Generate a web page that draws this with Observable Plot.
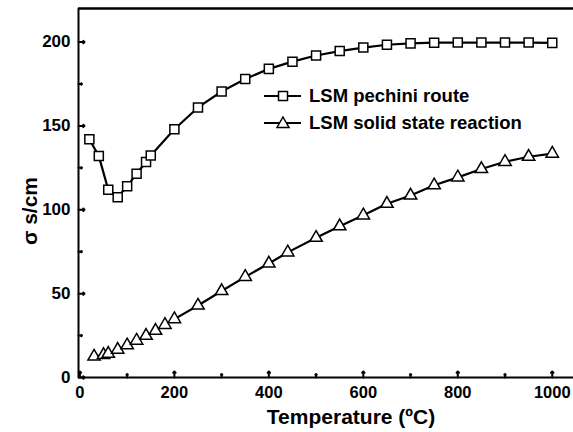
<!DOCTYPE html>
<html>
<head>
<meta charset="utf-8">
<script src="https://cdn.jsdelivr.net/npm/d3@7"></script>
<script src="https://cdn.jsdelivr.net/npm/@observablehq/plot@0.6"></script>
<style>
  body { margin: 0; background: #fff; }
  #wrap { position: relative; width: 573px; height: 432px; font-family: "Liberation Sans", Arial, sans-serif; }
  #legend { position: absolute; left: 261px; top: 82px; font-weight: bold; font-size: 18.5px; color: #000; }
  .row { display: flex; align-items: center; height: 27px; }
  .row svg { margin-right: 6px; }
</style>
</head>
<body>
<div id="wrap"></div>
<script>
// Data
const pechiniT = [20, 40, 60, 80, 100, 120, 140, 150, 200, 250, 300, 350, 400, 450, 500, 550, 600, 650, 700, 750, 800, 850, 900, 950, 1000];
const pechiniS = [142, 132, 112, 107.5, 114, 121.5, 128.5, 132.3, 148, 161, 170.5, 178, 184, 188.3, 192, 194.6, 196.7, 198.4, 199.2, 199.6, 199.7, 199.7, 199.7, 199.7, 199.5];
const solidT = [30, 50, 60, 80, 100, 120, 140, 160, 180, 200, 250, 300, 350, 400, 440, 500, 550, 600, 650, 700, 750, 800, 850, 900, 950, 1000];
const solidS = [12.5, 13.4, 14.2, 16.6, 19.2, 22, 24.9, 27.9, 31.4, 34.8, 42.9, 51.6, 60, 68, 74.6, 83.3, 90.2, 96.7, 103.6, 108.5, 114.6, 119.3, 124.3, 128.6, 131.6, 133.5];
const seriesNames = ["LSM pechini route", "LSM solid state reaction"];
const xMajor = [0, 200, 400, 600, 800, 1000];
const xMinor = [100, 300, 500, 700, 900];
const yMajor = [0, 50, 100, 150, 200];
const yMinor = [25, 75, 125, 175];
const xTitle = "Temperature (ºC)";
const yTitle = "σ s/cm";

const pechini = pechiniT.map((t, i) => ({t, s: pechiniS[i]}));
const solid = solidT.map((t, i) => ({t, s: solidS[i]}));

const font = {fontFamily: "Liberation Sans, Arial, sans-serif", fontWeight: "bold", fill: "#000"};

const chart = Plot.plot({
  width: 573,
  height: 432,
  marginLeft: 78,
  marginRight: 0,
  marginTop: 8,
  marginBottom: 55,
  style: {fontFamily: "Liberation Sans, Arial, sans-serif", background: "#fff", overflow: "visible"},
  x: {domain: [-3, 1045], axis: null},
  y: {domain: [0, 220], axis: null},
  marks: [
    Plot.line(pechini, {x: "t", y: "s", stroke: "#000", strokeWidth: 2.2}),
    Plot.line(solid, {x: "t", y: "s", stroke: "#000", strokeWidth: 2.2}),
    Plot.dot(pechini, {x: "t", y: "s", symbol: "square", r: 5.1, fill: "#fff", stroke: "#000", strokeWidth: 1.5}),
    Plot.dot(solid, {x: "t", y: "s", symbol: "triangle", r: 4.6, fill: "#fff", stroke: "#000", strokeWidth: 1.5}),
    // frame (right edge falls outside the picture)
    Plot.ruleY([0], {stroke: "#000", strokeWidth: 2}),
    Plot.ruleY([220], {stroke: "#000", strokeWidth: 2.5}),
    Plot.ruleX([-3], {stroke: "#000", strokeWidth: 2}),
    // inward ticks
    Plot.vector(xMajor, {x: d => d, frameAnchor: "bottom", length: 6, rotate: 0, anchor: "start", stroke: "#000", strokeWidth: 2}),
    Plot.vector(xMinor, {x: d => d, frameAnchor: "bottom", length: 3.5, rotate: 0, anchor: "start", stroke: "#000", strokeWidth: 2}),
    Plot.vector(yMajor, {y: d => d, frameAnchor: "left", length: 6, rotate: 90, anchor: "start", stroke: "#000", strokeWidth: 2}),
    Plot.vector(yMinor, {y: d => d, frameAnchor: "left", length: 3.5, rotate: 90, anchor: "start", stroke: "#000", strokeWidth: 2}),
    // tick labels
    Plot.text(xMajor, {x: d => d, frameAnchor: "bottom", lineAnchor: "middle", dy: 15, text: d => String(d), fontSize: 16.5, ...font}),
    Plot.text(yMajor, {y: d => d, frameAnchor: "left", dx: -8, textAnchor: "end", text: d => String(d), fontSize: 17, ...font}),
    // axis titles
    Plot.text([xTitle], {frameAnchor: "bottom", lineAnchor: "middle", dx: 25, dy: 40, text: d => d, fontSize: 21, ...font}),
    Plot.text([yTitle], {frameAnchor: "left", textAnchor: "middle", lineAnchor: "middle", dx: -48, dy: 18, rotate: -90, text: d => d, fontSize: 21, ...font})
  ]
});

const wrap = document.getElementById("wrap");
wrap.appendChild(chart);

// Legend inside the plot area
const legend = document.createElement("div");
legend.id = "legend";
const symbols = [
  `<rect x="17.5" y="6.5" width="9" height="9" fill="#fff" stroke="#000" stroke-width="1.5"/>`,
  `<path d="M22,5 L28,15.5 L16,15.5 Z" fill="#fff" stroke="#000" stroke-width="1.5"/>`
];
seriesNames.forEach((name, i) => {
  const row = document.createElement("div");
  row.className = "row";
  row.innerHTML = `<svg width="42" height="22" viewBox="0 0 42 22"><line x1="3" y1="11" x2="40" y2="11" stroke="#000" stroke-width="2"/>${symbols[i]}</svg><span>${name}</span>`;
  legend.appendChild(row);
});
wrap.appendChild(legend);
</script>
</body>
</html>
